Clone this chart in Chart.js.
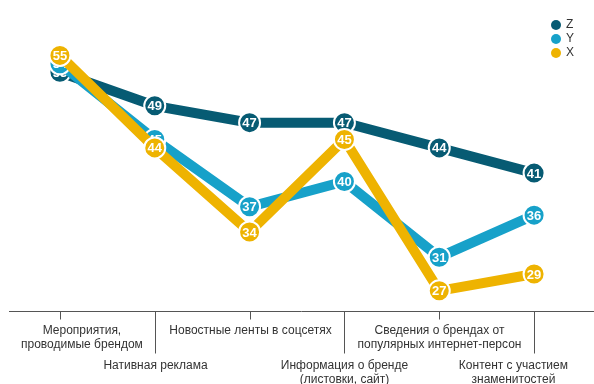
<!DOCTYPE html>
<html>
<head>
<meta charset="utf-8">
<script src="https://cdn.jsdelivr.net/npm/chart.js@4.4.1/dist/chart.umd.min.js"></script>
<style>
  html, body { margin: 0; padding: 0; background: #fff; }
  #wrap { width: 594px; height: 384px; position: relative; }
</style>
</head>
<body>
<div id="wrap"><canvas id="chart"></canvas></div>
<script>
// categories (two rows of labels under the axis, alternating)
var categories = [
    ['Мероприятия,', 'проводимые брендом'],
    ['Нативная реклама'],
    ['Новостные ленты в соцсетях'],
    ['Информация о бренде', '(листовки, сайт)'],
    ['Сведения о брендах от', 'популярных интернет-персон'],
    ['Контент с участием', 'знаменитостей']
];
var seriesNames = ['Z', 'Y', 'X'];
var zValues = [53, 49, 47, 47, 44, 41];
var yValues = [54, 45, 37, 40, 31, 36];
var xValues = [55, 44, 34, 45, 27, 29];

var colors = { Z: '#075b73', Y: '#17a1c9', X: '#eeb301' };
var values = { Z: zValues, Y: yValues, X: xValues };

function makeSet(name, order) {
    return {
        label: name,
        data: values[name],
        order: order,
        borderColor: colors[name],
        backgroundColor: colors[name],
        borderWidth: 10,
        pointRadius: 10.5,
        pointHoverRadius: 10.5,
        pointBorderColor: '#fff',
        pointBorderWidth: 2,
        pointBackgroundColor: colors[name],
        tension: 0
    };
}

// value labels inside the circles, drawn right after each dataset
var valueLabels = {
    id: 'valueLabels',
    afterDatasetDraw: function (chart, args) {
        var ctx = chart.ctx;
        var ds = chart.data.datasets[args.index];
        ctx.save();
        ctx.fillStyle = '#fff';
        ctx.font = 'bold 13px "Liberation Sans", Arial, sans-serif';
        ctx.textAlign = 'center';
        ctx.textBaseline = 'middle';
        args.meta.data.forEach(function (pt, i) {
            ctx.fillText(ds.data[i], pt.x, pt.y + 1);
        });
        ctx.restore();
    }
};

// axis line, alternating ticks and category labels
var bottomAxis = {
    id: 'bottomAxis',
    afterDraw: function (chart) {
        var ctx = chart.ctx;
        var xs = chart.scales.x;
        var axisY = chart.chartArea.bottom + 0.5;
        ctx.save();
        ctx.strokeStyle = '#555';
        ctx.lineWidth = 1;
        ctx.beginPath();
        ctx.moveTo(9, axisY);
        ctx.lineTo(594, axisY);
        ctx.stroke();
        ctx.font = '12px "Liberation Sans", Arial, sans-serif';
        ctx.fillStyle = '#333';
        ctx.textAlign = 'center';
        ctx.textBaseline = 'middle';
        categories.forEach(function (lines, i) {
            var x = Math.round(xs.getPixelForValue(i)) + 0.5;
            var low = i % 2 === 1;
            ctx.beginPath();
            ctx.moveTo(x, axisY);
            ctx.lineTo(x, axisY + (low ? 42 : 8));
            ctx.stroke();
            // keep the label block inside the page
            var w = 0;
            lines.forEach(function (t) { w = Math.max(w, ctx.measureText(t).width); });
            var cx = Math.min(Math.max(x, 21 + w / 2), 568 - w / 2);
            var top = low ? axisY + 54 : axisY + 19;
            lines.forEach(function (t, j) {
                ctx.fillText(t, cx, top + j * 14.5);
            });
        });
        ctx.restore();
    }
};

// legend in the top right corner, Z first
var cornerLegend = {
    id: 'cornerLegend',
    afterDraw: function (chart) {
        var ctx = chart.ctx;
        ctx.save();
        ctx.font = '12px "Liberation Sans", Arial, sans-serif';
        ctx.textBaseline = 'middle';
        ctx.textAlign = 'left';
        seriesNames.forEach(function (name, i) {
            var y = 25 + i * 14;
            ctx.fillStyle = colors[name];
            ctx.beginPath();
            ctx.arc(556, y, 5, 0, Math.PI * 2);
            ctx.fill();
            ctx.fillStyle = '#333';
            ctx.fillText(name, 566, y);
        });
        ctx.restore();
    }
};

var chart = new Chart(document.getElementById('chart'), {
    type: 'line',
    data: {
        labels: categories.map(function (c) { return c.join(' '); }),
        datasets: [makeSet('Z', 3), makeSet('Y', 2), makeSet('X', 1)]
    },
    options: {
        responsive: true,
        maintainAspectRatio: false,
        animation: false,
        layout: { padding: { top: 10, bottom: 73, left: 9, right: 9 } },
        scales: {
            x: { display: false, offset: true },
            y: { display: false, min: 24.6, max: 60.1 }
        },
        plugins: {
            legend: { display: false },
            tooltip: { enabled: false }
        }
    },
    plugins: [valueLabels, bottomAxis, cornerLegend]
});
</script>
</body>
</html>
